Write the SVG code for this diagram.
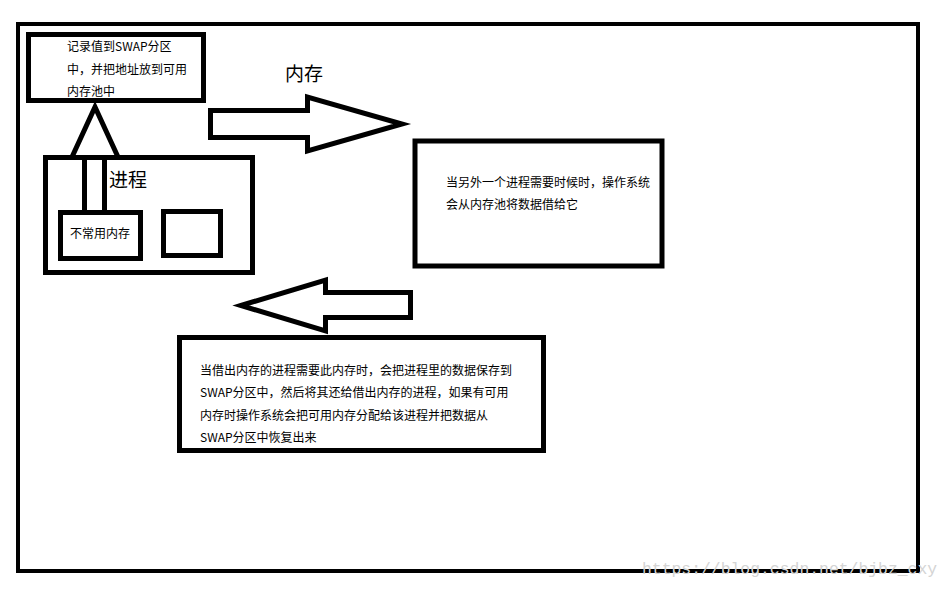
<svg xmlns="http://www.w3.org/2000/svg" width="952" height="590" viewBox="0 0 952 590">
<style>
.box{fill:none;stroke:#000;stroke-width:5}
.arrow{fill:none;stroke:#000;stroke-width:5;stroke-linejoin:miter}
.t{font-family:"Noto Sans CJK SC","Microsoft YaHei",sans-serif;font-size:12px;fill:#000}
.big{font-family:"Noto Sans CJK SC","Microsoft YaHei",sans-serif;font-size:19px;fill:#000}
.wm{font-family:"Liberation Mono",monospace;font-size:16.4px;fill:#d4d4d4}
</style>
<rect width="952" height="590" fill="#fff"/>
<g id="frame"><rect x="18" y="24" width="900" height="547" fill="none" stroke="#000" stroke-width="4"/></g>
<g id="swap-note">
<rect class="box" x="28.5" y="34.5" width="175" height="66"/>
<text class="t" x="67" y="51">记录值到SWAP分区</text>
<text class="t" x="67" y="74">中，并把地址放到可用</text>
<text class="t" x="67" y="96">内存池中</text>
</g>
<g id="process">
<rect class="box" x="45.5" y="157.5" width="207" height="115"/>
<text class="big" x="109" y="187">进程</text>
</g>
<g id="rarely-used">
<rect class="box" x="60.5" y="212.5" width="80" height="46"/>
<text class="t" x="70" y="238">不常用内存</text>
</g>
<g id="empty-box"><rect class="box" x="163.5" y="211.5" width="57" height="44"/></g>
<g id="memory-label"><text class="big" x="285" y="81">内存</text></g>
<g id="lend-note">
<rect class="box" x="415" y="141" width="247" height="125"/>
<text class="t" x="446" y="187">当另外一个进程需要时候时，操作系统</text>
<text class="t" x="446" y="209">会从内存池将数据借给它</text>
</g>
<g id="return-note">
<rect class="box" x="179.5" y="337.5" width="364" height="113"/>
<text class="t" x="200" y="375">当借出内存的进程需要此内存时，会把进程里的数据保存到</text>
<text class="t" x="200" y="397">SWAP分区中，然后将其还给借出内存的进程，如果有可用</text>
<text class="t" x="200" y="420">内存时操作系统会把可用内存分配给该进程并把数据从</text>
<text class="t" x="200" y="442">SWAP分区中恢复出来</text>
</g>
<g id="connectors">
<polyline class="arrow" points="72,157 95,107 118,157"/>
<polyline class="arrow" points="84.5,157 84.5,212"/>
<polyline class="arrow" points="104.5,157 104.5,212"/>
<polygon class="arrow" points="210.5,110.5 307.5,110.5 307.5,97 402,124 307.5,151 307.5,137.5 210.5,137.5"/>
<polygon class="arrow" points="241,305.5 325.5,280 325.5,292.5 410.5,292.5 410.5,317.5 325.5,317.5 325.5,331"/>
</g>
<text class="wm" x="642" y="574">https://blog.csdn.net/bjbz_cxy</text>
</svg>
